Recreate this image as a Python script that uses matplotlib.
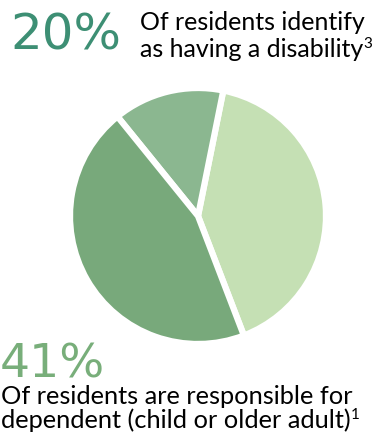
import matplotlib.pyplot as plt

# slice shares (counter-clockwise from the lower right)
shares = [41, 14, 45]
slice_colors = ['#c5e0b4', '#8bb790', '#78a97b']

stat_top = '20%'
text_top = ['Of residents identify', 'as having a disability']
note_top = '3'
stat_bottom = '41%'
text_bottom = ['Of residents are responsible for', 'dependent (child or older adult)']
note_bottom = '1'

W, H = 383, 437
fig = plt.figure(figsize=(W / 100, H / 100), dpi=100)

# pie axes: centre (198, 216) px, radius ~128 px
cx, cy, r = 198, 216, 128
ax = fig.add_axes([(cx - r) / W, (H - cy - r) / H, 2 * r / W, 2 * r / H])
ax.pie(shares, colors=slice_colors, startangle=-69, counterclock=True,
       wedgeprops=dict(edgecolor='white', linewidth=4.5))
ax.set_xlim(-1, 1)
ax.set_ylim(-1, 1)
ax.axis('off')

font = 'Lato'
big = 'DejaVu Sans'
renderer = fig.canvas.get_renderer()


def line(x, y, s, note=None, size=18.3):
    t = fig.text(x / W, 1 - y / H, s, fontsize=size, color='black',
                 family=font, va='baseline')
    if note:
        bb = t.get_window_extent(renderer)
        fig.text((bb.x1 + 0.5) / W, 1 - (y - 9) / H, note, fontsize=11,
                 color='black', family=font, va='baseline')


fig.text(10 / W, 1 - 50 / H, stat_top, fontsize=36, color='#3d8f74',
         family=big, va='baseline')
line(140, 30, text_top[0], size=18)
line(140, 57, text_top[1], note_top, size=18)

fig.text(0 / W, 1 - 377 / H, stat_bottom, fontsize=34, color='#78ae7a',
         family=big, va='baseline')
line(1, 404, text_bottom[0])
line(1, 428, text_bottom[1], note_bottom)

fig.savefig('out.png', dpi=100)
